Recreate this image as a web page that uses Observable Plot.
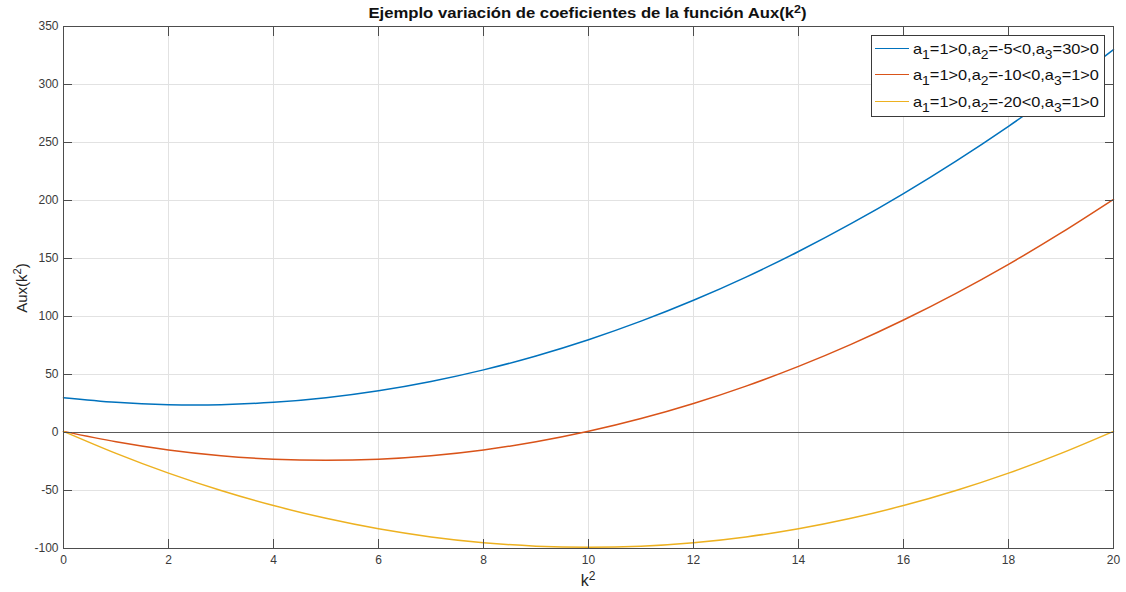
<!DOCTYPE html>
<html>
<head>
<meta charset="utf-8">
<script src="https://cdn.jsdelivr.net/npm/d3@7"></script>
<script src="https://cdn.jsdelivr.net/npm/@observablehq/plot@0.6"></script>
<style>
  body { margin: 0; background: #fff; font-family: "Liberation Sans", Arial, Helvetica, sans-serif; }
  #wrap { position: relative; width: 1126px; height: 592px; overflow: hidden; }
  #title { position: absolute; left: 63px; width: 1050px; top: 5px; text-align: center;
           font-weight: bold; font-size: 14.5px; color: #111; line-height: 17px; }
  #title span { display: inline-block; transform: scaleX(1.15); transform-origin: center; }
  #xlabel { position: absolute; left: 63px; width: 1050px; top: 572px; text-align: center;
            font-size: 16px; color: #262626; line-height: 18px; }
  #ylabel { position: absolute; left: 22px; top: 288px; transform: translate(-50%, -50%) rotate(-90deg);
            font-size: 15px; color: #262626; white-space: nowrap; line-height: 18px; }
  sup { font-size: 0.75em; vertical-align: 0.5em; line-height: 0; }
  sub { font-size: 0.85em; vertical-align: -0.4em; line-height: 0; }
  #legend { position: absolute; left: 871px; top: 35px; width: 234px; height: 82px;
            background: #fff; border: 1px solid #3a3a3a; box-sizing: border-box;
            font-size: 15px; color: #111; }
  .row { position: absolute; left: 0; height: 20px; width: 100%; }
  .swatch { position: absolute; left: 3px; width: 34px; top: 9px; height: 1px; }
  .lab { position: absolute; left: 41px; top: 0; white-space: nowrap; line-height: 20px;
         transform: scaleX(1.09); transform-origin: left center; }
</style>
</head>
<body>
<div id="wrap">
  <div id="chart"></div>
  <div id="title"><span>Ejemplo variación de coeficientes de la función Aux(k<sup>2</sup>)</span></div>
  <div id="xlabel">k<sup>2</sup></div>
  <div id="ylabel">Aux(k<sup>2</sup>)</div>
  <div id="legend"></div>
</div>
<script>
// k^2 sample positions
const k2 = [0, 1, 2, 3, 4, 5, 6, 7, 8, 9, 10, 11, 12, 13, 14, 15, 16, 17, 18, 19, 20];

// Aux(k^2) for each coefficient set
const auxA = [30, 26, 24, 24, 26, 30, 36, 44, 54, 66, 80, 96, 114, 134, 156, 180, 206, 234, 264, 296, 330];
const auxB = [1, -8, -15, -20, -23, -24, -23, -20, -15, -8, 1, 12, 25, 40, 57, 76, 97, 120, 145, 172, 201];
const auxC = [1, -18, -35, -50, -63, -74, -83, -90, -95, -98, -99, -98, -95, -90, -83, -74, -63, -50, -35, -18, 1];

// coefficient texts (a1, a2, a3) per series
const coefA = ["1>0", "-5<0", "30>0"];
const coefB = ["1>0", "-10<0", "1>0"];
const coefC = ["1>0", "-20<0", "1>0"];

const colors = ["#0072BD", "#D95319", "#EDB120"];

const xTicks = [0, 2, 4, 6, 8, 10, 12, 14, 16, 18, 20];
const yTicks = [-100, -50, 0, 50, 100, 150, 200, 250, 300, 350];

const series = [
  {values: auxA, coef: coefA, color: colors[0]},
  {values: auxB, coef: coefB, color: colors[1]},
  {values: auxC, coef: coefC, color: colors[2]}
];

const lineMarks = series.map(s =>
  Plot.line(k2.map((x, i) => ({x, y: s.values[i]})), {
    x: "x", y: "y", stroke: s.color, strokeWidth: 1.5, curve: "natural"
  })
);

const tickLen = -9;
const axisColor = "#4d4d4d";
const plain = d => String(d); // hyphen-minus for negatives

const chart = Plot.plot({
  width: 1126,
  height: 592,
  marginLeft: 63,
  marginRight: 13,
  marginTop: 26,
  marginBottom: 44,
  style: {fontFamily: '"Liberation Sans", Arial, Helvetica, sans-serif', fontSize: "12px", color: "#3a3a3a", background: "#fff"},
  x: {domain: [0, 20]},
  y: {domain: [-100, 350]},
  marks: [
    Plot.gridX(xTicks, {stroke: "#e2e2e2", strokeOpacity: 1}),
    Plot.gridY(yTicks, {stroke: "#e2e2e2", strokeOpacity: 1}),
    Plot.ruleY([0], {stroke: "#5a5a5a", strokeWidth: 1}),
    ...lineMarks,
    Plot.frame({stroke: axisColor}),
    // tick labels
    Plot.axisX(xTicks, {anchor: "bottom", tickSize: 0, tickPadding: 7, label: null, fontSize: 12, tickFormat: plain}),
    Plot.axisY(yTicks, {anchor: "left", tickSize: 0, tickPadding: 5, label: null, fontSize: 12, tickFormat: plain}),
    // inward tick marks on all four sides
    Plot.axisX(xTicks, {anchor: "bottom", tickSize: tickLen, tickFormat: () => "", label: null, stroke: axisColor}),
    Plot.axisX(xTicks, {anchor: "top", tickSize: tickLen, tickFormat: () => "", label: null, stroke: axisColor}),
    Plot.axisY(yTicks, {anchor: "left", tickSize: tickLen, tickFormat: () => "", label: null, stroke: axisColor}),
    Plot.axisY(yTicks, {anchor: "right", tickSize: tickLen, tickFormat: () => "", label: null, stroke: axisColor})
  ]
});
document.getElementById("chart").appendChild(chart);

// legend entries
const legend = document.getElementById("legend");
const rowTops = [3, 29, 56];
series.forEach((s, i) => {
  const row = document.createElement("div");
  row.className = "row";
  row.style.top = rowTops[i] + "px";
  const sw = document.createElement("div");
  sw.className = "swatch";
  sw.style.background = s.color;
  const lab = document.createElement("div");
  lab.className = "lab";
  lab.innerHTML = s.coef.map((c, j) => `a<sub>${j + 1}</sub>=${c.replace("<", "&lt;").replace(">", "&gt;")}`).join(",");
  row.appendChild(sw);
  row.appendChild(lab);
  legend.appendChild(row);
});
</script>
</body>
</html>
